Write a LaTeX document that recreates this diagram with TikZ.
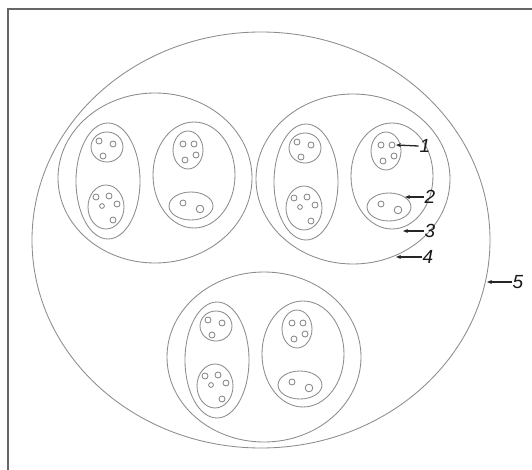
\documentclass[tikz,border=0pt]{standalone}
\usepackage{fontspec}
\setmainfont{Liberation Sans}
\usetikzlibrary{arrows.meta}
\tikzset{
  ln/.style={draw=black!45, line width=0.85pt},
  dot/.style={draw=black!50, line width=0.8pt},
  frameln/.style={draw=black!60, line width=1.4pt},
  lbl/.style={font=\fontsize{19}{19}\selectfont\itshape, inner sep=1pt, text=black!90},
  arr/.style={draw=black!85, line width=1.3pt, -{Stealth[length=5pt,width=4pt]}},
  grp/.pic={
    \draw[ln] (0,0) ellipse [x radius=97pt, y radius=85pt];
    \draw[ln] (-47,3) ellipse [x radius=32pt, y radius=58pt];
    \draw[ln] (39,-3) ellipse [x radius=41pt, y radius=53pt];
    \draw[ln] (-48,-31) ellipse [x radius=16pt, y radius=15pt];
    \draw[ln] (-49,29) ellipse [x radius=18pt, y radius=22pt];
    \draw[ln] (33,-28) ellipse [x radius=15pt, y radius=19pt];
    \draw[ln] (36,28) ellipse [x radius=22pt, y radius=14pt];
    \foreach \p in {(-56,-37),(-42,-34),(-52,-22),
                    (-59,19),(-46,18),(-38,26),(-42,42),
                    (28,-34),(39,-34),(30,-18),(41,-23),
                    (28,25)}
      \draw[dot] \p circle [radius=3pt];
    \draw[dot] (-53,28) circle [radius=2.4pt];
    \draw[dot] (45,31) circle [radius=3.8pt];
  }
}
\begin{document}
\begin{tikzpicture}[x=1pt,y=-1pt]
  \useasboundingbox (0,0) rectangle (532,470);
  \fill[white] (0,0) rectangle (532,470);
  \draw[frameln] (8,470) -- (8,9) -- (532,9);
  \draw[ln] (261,240) ellipse [x radius=229pt, y radius=208pt];
  \pic at (155,178) {grp};
  \pic at (353,179) {grp};
  \pic at (264,357) {grp};
  \node[lbl] (l1) at (425,146) {1};
  \node[lbl] (l2) at (430,197) {2};
  \node[lbl] (l3) at (430,231) {3};
  \node[lbl] (l4) at (428,257) {4};
  \node[lbl] (l5) at (518,282) {5};
  \coordinate (t1) at (396,145);
  \coordinate (t2) at (405,197);
  \coordinate (t3) at (403,231);
  \coordinate (t4) at (396,257);
  \coordinate (t5) at (487,282);
  \draw[arr] (l1.west) -- (t1);
  \draw[arr] (l2.west) -- (t2);
  \draw[arr] (l3.west) -- (t3);
  \draw[arr] (l4.west) -- (t4);
  \draw[arr] (l5.west) -- (t5);
\end{tikzpicture}
\end{document}
